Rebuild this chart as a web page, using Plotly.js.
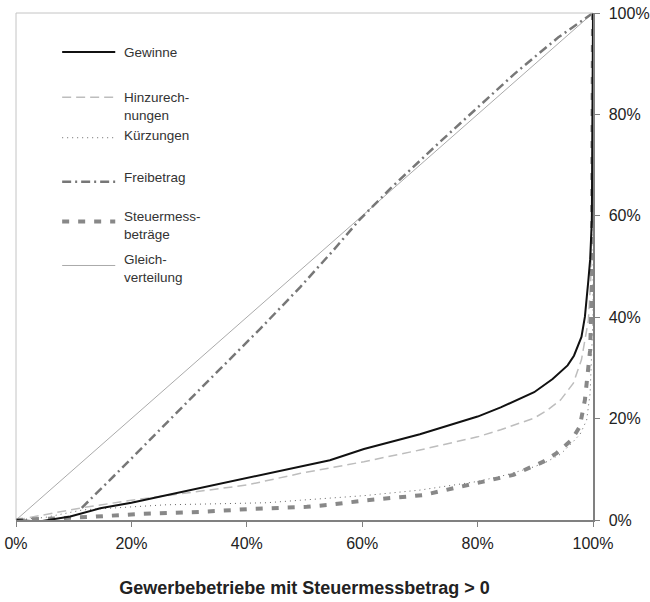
<!DOCTYPE html>
<html>
<head>
<meta charset="utf-8">
<script src="https://cdn.plot.ly/plotly-3.0.1.min.js"></script>
<style>html,body{margin:0;padding:0;background:#fff;}#chart{width:650px;height:602px;}</style>
</head>
<body>
<div id="chart"></div>
<script>
// Cumulative share of businesses (%) and cumulative share of each quantity (%)
const gewinneX = [0, 4, 9.4, 14.6, 20, 29, 40, 49.3, 54.4, 60.3, 70, 80, 84, 89.8, 93, 95.6, 96.7, 98, 98.6, 99.2, 99.5, 99.8, 100];
const gewinneY = [0, -0.3, 0.7, 2.3, 3.4, 5.6, 8.2, 10.5, 11.8, 14, 16.9, 20.4, 22.2, 25.2, 27.8, 30.5, 32.4, 36.1, 40.1, 47.3, 51.3, 59, 100];

const hinzuX = [0, 11.4, 20, 29, 40, 49.3, 54.4, 60.3, 70, 80, 84, 89.8, 92, 94.4, 96.6, 98, 99.2, 99.6, 99.9, 100];
const hinzuY = [0, 2.4, 3.9, 5.3, 6.9, 9.2, 10.2, 11.5, 13.8, 16.4, 17.8, 20.1, 21.6, 23.7, 27, 31.6, 39.4, 47.3, 70, 100];

const kuerzX = [0, 5, 11.6, 20, 26, 35, 43.4, 49.3, 54.4, 60.3, 70, 80, 85, 89.8, 92, 94.4, 96.6, 97.8, 98.9, 99.5, 100, 100];
const kuerzY = [0, 0.5, 2.0, 2.6, 3.0, 3.2, 3.4, 3.9, 4.3, 4.8, 5.9, 7.6, 8.9, 10.5, 11.5, 13.0, 15.5, 17.0, 19.7, 25, 40, 100];

const freiX = [11.4, 19.2, 33.1, 42.4, 49.3, 55, 59.6, 65, 73.5, 80.4, 86.2, 88.8, 94, 100];
const freiY = [2.4, 11.2, 27.2, 37.8, 46.0, 53.2, 59.3, 65.5, 74.6, 81.8, 87.8, 90.3, 95.2, 100];

const steuerX = [0, 5.9, 12.8, 21.5, 31.9, 41.1, 50.4, 54.4, 60.8, 70.5, 80, 86.2, 91.4, 93.7, 96.3, 97.7, 98.6, 99.2, 99.5, 99.8, 100];
const steuerY = [0, 0.2, 0.6, 1.2, 1.6, 2.2, 2.6, 3.0, 3.9, 4.9, 7.3, 8.9, 11.5, 13.2, 15.8, 18.4, 23.7, 29.6, 33.5, 44.8, 100];

const gleichX = [0, 100];
const gleichY = [0, 100];

const tickVals = [0, 20, 40, 60, 80, 100];
const tickLabels = ['0%', '20%', '40%', '60%', '80%', '100%'];

const seriesNames = ['Gewinne', 'Hinzurech-<br>nungen', 'Kürzungen', 'Freibetrag', 'Steuermess-<br>beträge', 'Gleich-<br>verteilung'];

const styles = [
  {color: '#111111', width: 2, dash: 'solid'},
  {color: '#bdbdbd', width: 1.5, dash: '9px,5px'},
  {color: '#666666', width: 1, dash: '1px,4px'},
  {color: '#777777', width: 2.5, dash: '9px,4px,2px,4px'},
  {color: '#888888', width: 4, dash: '7px,9px'},
  {color: '#aaaaaa', width: 1, dash: 'solid'}
];

const xs = [gewinneX, hinzuX, kuerzX, freiX, steuerX, gleichX];
const ys = [gewinneY, hinzuY, kuerzY, freiY, steuerY, gleichY];
const drawOrder = [5, 3, 1, 2, 4, 0];

const traces = drawOrder.map(i => ({
  type: 'scatter', mode: 'lines', x: xs[i], y: ys[i], name: seriesNames[i],
  line: {color: styles[i].color, width: styles[i].width, dash: styles[i].dash},
  showlegend: false, hoverinfo: 'skip'
}));

// hand-placed legend (paper coordinates)
const legRowsY = [0.923, 0.834, 0.754, 0.667, 0.589, 0.502];   // line sample y
const legTextY = [0.923, 0.816, 0.759, 0.675, 0.580, 0.497];
const shapes = [
  {type: 'line', xref: 'paper', yref: 'paper', x0: 0, x1: 1, y0: 1, y1: 1, line: {color: '#c4c4c4', width: 1}},
  {type: 'line', xref: 'paper', yref: 'paper', x0: 0, x1: 0, y0: 0, y1: 1, line: {color: '#c4c4c4', width: 1}}
];
const annotations = [];
for (let i = 0; i < 6; i++) {
  shapes.push({type: 'line', xref: 'paper', yref: 'paper', x0: 0.08, x1: 0.172, y0: legRowsY[i], y1: legRowsY[i],
    line: {color: styles[i].color, width: styles[i].width, dash: styles[i].dash}});
  annotations.push({xref: 'paper', yref: 'paper', x: 0.183, y: legTextY[i], xanchor: 'left', yanchor: 'middle',
    text: seriesNames[i], showarrow: false, align: 'left', font: {size: 13.5, color: '#333'}});
}

const layout = {
  width: 650, height: 602,
  margin: {l: 16, r: 57, t: 13, b: 82},
  paper_bgcolor: '#fff', plot_bgcolor: '#fff',
  font: {family: 'Liberation Sans, Arial, sans-serif', color: '#222'},
  showlegend: false,
  xaxis: {
    range: [0, 100], tickvals: tickVals, ticktext: tickLabels,
    showgrid: false, zeroline: false, showline: true, linecolor: '#808080', linewidth: 2,
    ticks: 'outside', ticklen: 5, tickcolor: '#808080', tickwidth: 1, ticklabelstandoff: 3,
    tickfont: {size: 16, color: '#222'},
    title: {text: '<b>Gewerbebetriebe mit Steuermessbetrag > 0</b>', font: {size: 18, color: '#222'}, standoff: 30}
  },
  yaxis: {
    range: [0, 100], side: 'right', tickvals: tickVals, ticktext: tickLabels,
    showgrid: false, zeroline: false, showline: true, linecolor: '#808080', linewidth: 1.5,
    ticks: 'outside', ticklen: 5, tickcolor: '#808080', tickwidth: 1, ticklabelstandoff: 6,
    tickfont: {size: 16, color: '#222'}
  },
  shapes: shapes,
  annotations: annotations
};

Plotly.newPlot('chart', traces, layout, {displayModeBar: false, staticPlot: true});
</script>
</body>
</html>
